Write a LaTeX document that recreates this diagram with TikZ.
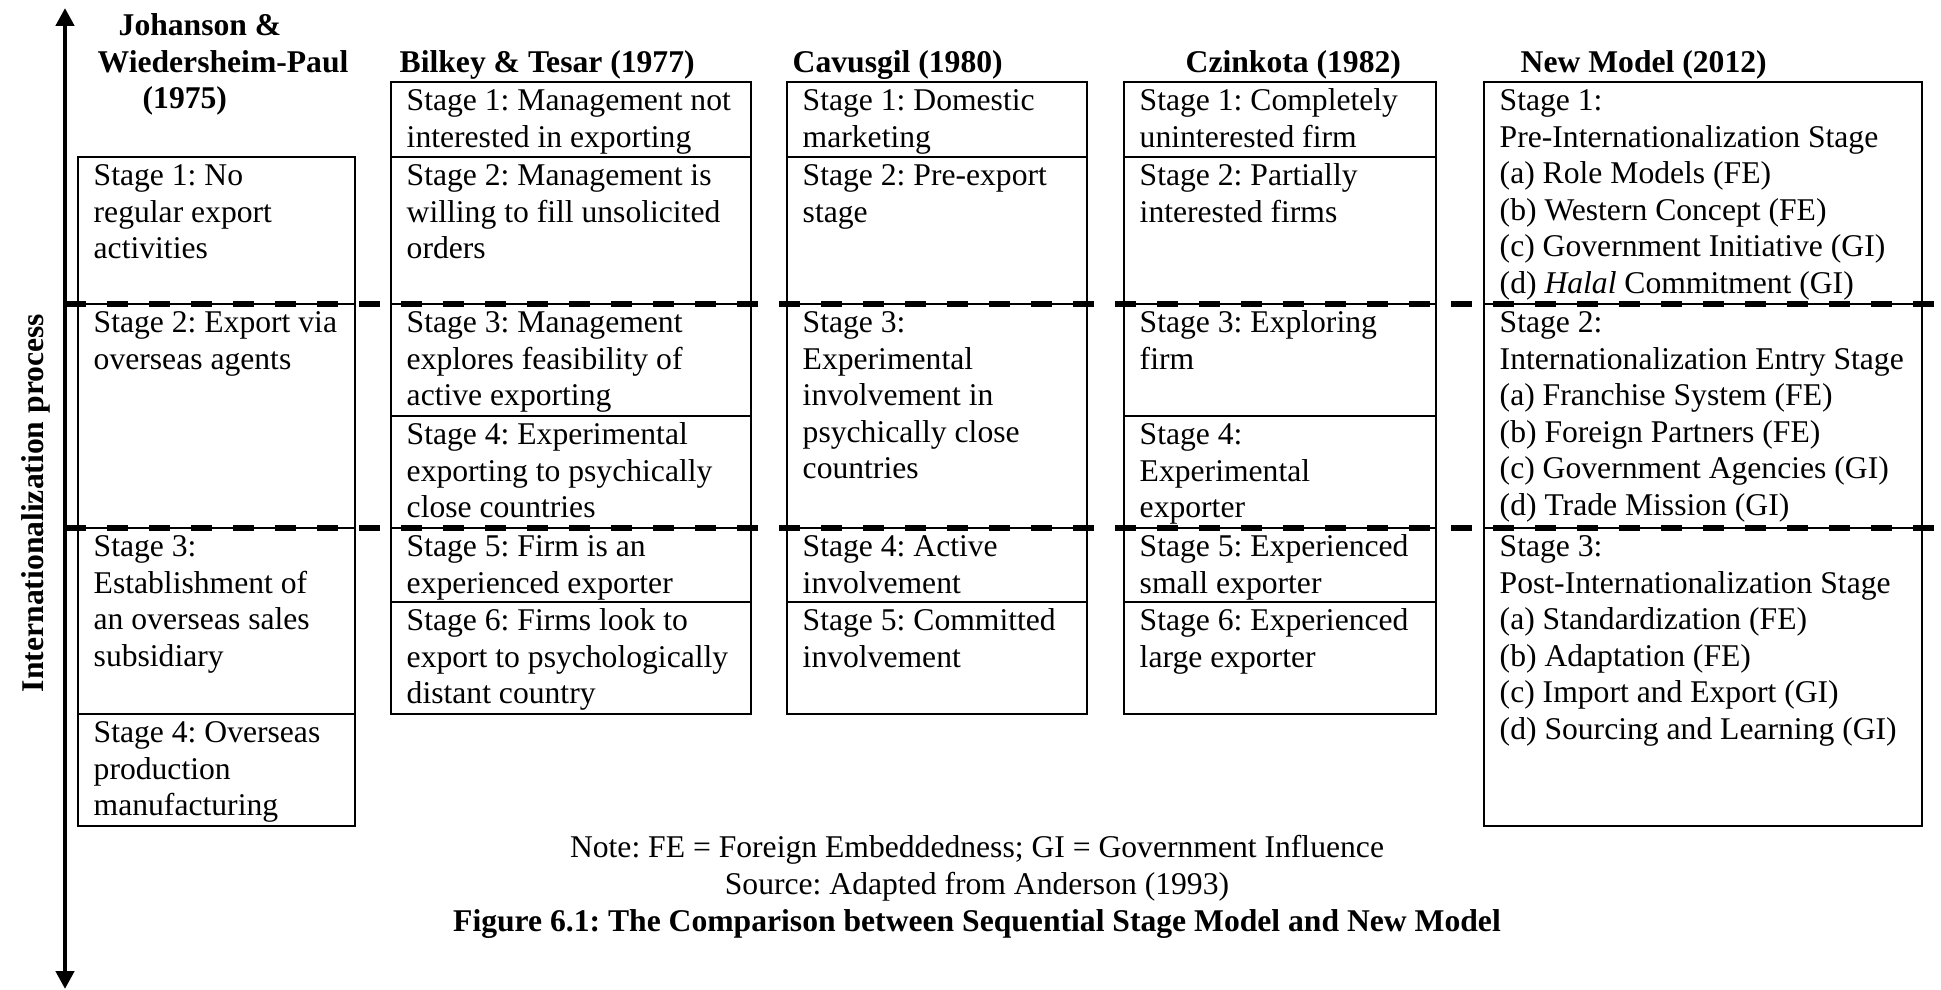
\documentclass[tikz,border=0pt]{standalone}
\usepackage{fontspec}
\setmainfont{Liberation Serif}
\frenchspacing
\usetikzlibrary{positioning, arrows.meta}
\tikzset{x=0.1mm, y=-0.1mm, % one unit is one pixel of the scan, y grows downwards
every node/.style={font=\fontsize{9}{10.4}\selectfont},
cell/.style={ % frame of one stage
draw, line width=0.6pt, outer sep=0pt, inner sep=0pt, anchor=north west},
celltext/.style={ % text inside a frame
anchor=north west, inner sep=0pt, align=left},
heading/.style={ % column titles
anchor=base west, inner sep=0pt, font=\fontsize{9}{10.4}\selectfont\bfseries},
divider/.style={line width=1.5pt, dash pattern=on 2.1mm off 2.1mm},
axis/.style={line width=1.4pt, {Triangle[length=1.8mm,width=1.8mm]}-{Triangle[length=1.8mm,width=1.8mm]}}}
% name, placement, width, height, text
\newcommand{\stagecell}[5]{%
\node[cell, #2, minimum width=#3*0.1mm, minimum height=#4*0.1mm] (#1) {};
\node[celltext] (#1-t) at ([xshift=1.5mm, yshift=-0.7pt]#1.north west) {\strut #5};}

\begin{document}
\begin{tikzpicture}
    \useasboundingbox (0,0) rectangle (1941,990);
    \coordinate (up) at (65,8);
    \coordinate (down) at (65,989);
    \coordinate (edge) at (1941,0);

    % column titles
    \node[heading, anchor=north west, align=left] (h1) at ([yshift=7.28pt]97,35) {\strut\hspace*{2.1mm}Johanson \&\\Wiedersheim-Paul\\\hspace*{4.5mm}(1975)};
    \node[heading] (h2) at (399,73) {Bilkey \& Tesar (1977)};
    \node[heading] (h3) at (792,73) {Cavusgil (1980)};
    \node[heading] (h4) at (1185,73) {Czinkota (1982)};
    \node[heading] (h5) at (1520,73) {New Model (2012)};

    % Johanson & Wiedersheim-Paul
    \stagecell{j1}{at={(78,157)}}{277}{147}{Stage 1: No\\regular export\\activities}
    \stagecell{j2}{below=0pt of j1}{277}{224}{Stage 2: Export via\\overseas agents}
    \stagecell{j3}{below=0pt of j2}{277}{186}{Stage 3:\\Establishment of\\an overseas sales\\subsidiary}
    \stagecell{j4}{below=0pt of j3}{277}{112}{Stage 4: Overseas\\production\\manufacturing}

    % Bilkey & Tesar
    \stagecell{b1}{at={(391,82)}}{360}{75}{Stage 1: Management not\\interested in exporting}
    \stagecell{b2}{below=0pt of b1}{360}{147}{Stage 2: Management is\\willing to fill unsolicited\\orders}
    \stagecell{b3}{below=0pt of b2}{360}{112}{Stage 3: Management\\explores feasibility of\\active exporting}
    \stagecell{b4}{below=0pt of b3}{360}{112}{Stage 4: Experimental\\exporting to psychically\\close countries}
    \stagecell{b5}{below=0pt of b4}{360}{74}{Stage 5: Firm is an\\experienced exporter}
    \stagecell{b6}{below=0pt of b5}{360}{112}{Stage 6: Firms look to\\export to psychologically\\distant country}

    % Cavusgil
    \stagecell{c1}{at={(787,82)}}{300}{75}{Stage 1: Domestic\\marketing}
    \stagecell{c2}{below=0pt of c1}{300}{147}{Stage 2: Pre-export\\stage}
    \stagecell{c3}{below=0pt of c2}{300}{224}{Stage 3:\\Experimental\\involvement in\\psychically close\\countries}
    \stagecell{c4}{below=0pt of c3}{300}{74}{Stage 4: Active\\involvement}
    \stagecell{c5}{below=0pt of c4}{300}{112}{Stage 5: Committed\\involvement}

    % Czinkota
    \stagecell{z1}{at={(1124,82)}}{312}{75}{Stage 1: Completely\\uninterested firm}
    \stagecell{z2}{below=0pt of z1}{312}{147}{Stage 2: Partially\\interested firms}
    \stagecell{z3}{below=0pt of z2}{312}{112}{Stage 3: Exploring\\firm}
    \stagecell{z4}{below=0pt of z3}{312}{112}{Stage 4:\\Experimental\\exporter}
    \stagecell{z5}{below=0pt of z4}{312}{74}{Stage 5: Experienced\\small exporter}
    \stagecell{z6}{below=0pt of z5}{312}{112}{Stage 6: Experienced\\large exporter}

    % New Model
    \stagecell{n1}{at={(1484,82)}}{438}{222}{Stage 1:\\Pre-Internationalization Stage\\(a) Role Models (FE)\\(b) Western Concept (FE)\\(c) Government Initiative (GI)\\(d) \textit{Halal} Commitment (GI)}
    \stagecell{n2}{below=0pt of n1}{438}{224}{Stage 2:\\Internationalization Entry Stage\\(a) Franchise System (FE)\\(b) Foreign Partners (FE)\\(c) Government Agencies (GI)\\(d) Trade Mission (GI)}
    \stagecell{n3}{below=0pt of n2}{438}{298}{Stage 3:\\Post-Internationalization Stage\\(a) Standardization (FE)\\(b) Adaptation (FE)\\(c) Import and Export (GI)\\(d) Sourcing and Learning (GI)}

    % phase borders
    \draw[divider] (j1.south -| up) -- (j1.south -| edge);
    \draw[divider] (j2.south -| up) -- (j2.south -| edge);

    % process axis
    \draw[axis] (down) -- (up);
    \node[rotate=90, inner sep=0pt, font=\fontsize{9}{10.4}\selectfont\bfseries] (proc) at (36,503) {Internationalization process};

    % notes under the table
    \node[anchor=base, inner sep=0pt] (note) at (977,857) {Note: FE = Foreign Embeddedness; GI = Government Influence};
    \node[anchor=base, inner sep=0pt] (src) at (977,894) {Source: Adapted from Anderson (1993)};
    \node[anchor=base, inner sep=0pt, font=\fontsize{9}{10.4}\selectfont\bfseries] (fig) at (977,931) {Figure 6.1: The Comparison between Sequential Stage Model and New Model};
\end{tikzpicture}
\end{document}
